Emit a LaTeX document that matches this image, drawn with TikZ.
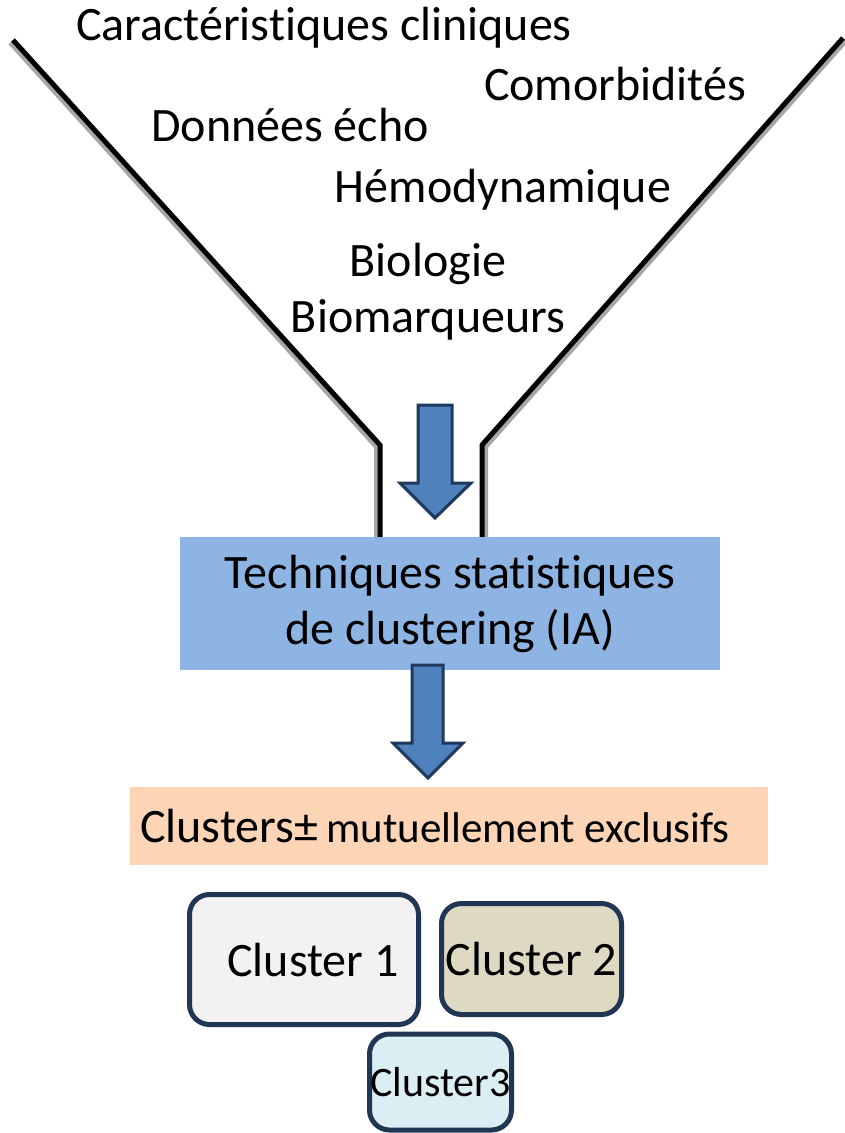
\documentclass[tikz,border=0pt]{standalone}
\usepackage{fontspec}
\setmainfont[Ligatures={NoCommon}]{Carlito}
\usepackage{tikz}
\usetikzlibrary{positioning}
\definecolor{techblue}{RGB}{142,180,227}
\definecolor{respeach}{RGB}{251,213,181}
\definecolor{arrowfill}{RGB}{79,129,189}
\definecolor{arrowedge}{RGB}{31,56,93}
\definecolor{clusedge}{RGB}{33,54,82}
\definecolor{clusgrey}{RGB}{242,242,242}
\definecolor{clustan}{RGB}{221,217,195}
\definecolor{clusice}{RGB}{219,238,243}
\tikzset{
  bigfont/.style = {font=\fontsize{48}{56}\selectfont},
  txt/.style = {bigfont, inner sep=0pt, anchor=base},% texte du entonnoir
  funnel/.style = {line width=5pt, black, line join=miter},% bord noir
  funnelshade/.style = {line width=4pt, black!35},% ombre grise
  blockarrow/.style = {draw=arrowedge, fill=arrowfill, line width=3pt,
    line join=miter},% fleche bleue
  techbox/.style = {bigfont, rectangle, fill=techblue, inner sep=0pt,
    minimum width=540pt, minimum height=133pt, align=center},
  resbox/.style = {bigfont, rectangle, fill=respeach, inner sep=0pt,
    minimum width=638pt, minimum height=78pt},
  clus/.style = {bigfont, rectangle, rounded corners=20pt, draw=clusedge,
    line width=5pt, inner sep=0pt}% cluster
}

\begin{document}
\begin{tikzpicture}[x=1pt, y=-1pt]
  \useasboundingbox[fill=white] (0,0) rectangle (844,1133);
  % entonnoir
  \draw [funnelshade] (10,43) -- (376,447) -- (376,537);
  \draw [funnelshade] (846,41) -- (486,447) -- (486,537);
  \draw [funnel] (13,40) -- (380,445) -- (380,537);
  \draw [funnel] (843,38) -- (482,445) -- (482,537);
  % donnees
  \node [txt] (carac) at (324,40) {Caractéristiques cliniques};
  \node [txt] (comorb) at (615,100) {Comorbidités};
  \node [txt] (echo) at (290,141) {Données écho};
  \node [txt] (hemo) at (503,202) {Hémodynamique};
  \node [txt] (bio) at (428,276) {Biologie};
  \node [txt] (biomark) at (428,332) {Biomarqueurs};
  % fleche 1
  \draw [blockarrow] (418,405) -- (452,405) -- (452,483) -- (471,483)
    -- (435,518) -- (400,483) -- (418,483) -- cycle;
  \node [techbox] (tech) at (450,603.5)
    {Techniques statistiques\\de clustering (IA)};
  % fleche 2
  \draw [blockarrow] (412,665) -- (443,665) -- (443,743) -- (463,743)
    -- (428,778) -- (393,743) -- (412,743) -- cycle;
  \node [resbox] (result) at (449,826)
    {\makebox[618pt][l]{Clusters±\hspace{8pt}{\fontsize{43}{50}\selectfont mutuellement exclusifs}}};
  % clusters
  \node [clus, fill=clusgrey, minimum width=229pt, minimum height=130pt]
    (c1) at (304,959.5) {\hspace{18pt}Cluster 1};
  \node [clus, fill=clustan, minimum width=180pt, minimum height=111pt]
    (c2) at (531.5,959) {Cluster 2};
  \node [clus, fill=clusice, minimum width=142pt, minimum height=96pt,
    font=\fontsize{42}{50}\selectfont] (c3) at (440.5,1082) {Cluster3};
\end{tikzpicture}
\end{document}
